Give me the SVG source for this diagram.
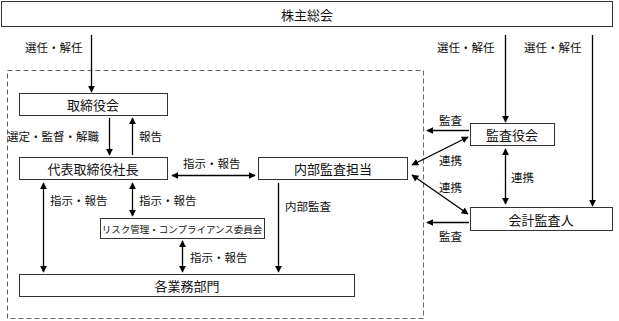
<svg xmlns="http://www.w3.org/2000/svg" width="619" height="321" viewBox="0 0 619 321">
<style>
.box{fill:#fff;stroke:#333;stroke-width:1}
.t{font-family:"Noto Sans CJK JP","Noto Sans",sans-serif;font-size:13px;fill:#111;text-anchor:middle;dominant-baseline:central}
.l{font-family:"Noto Sans CJK JP","Noto Sans",sans-serif;font-size:11.5px;fill:#111;dominant-baseline:central}
.c{stroke:#000;stroke-width:1.3;fill:none}
</style>
<defs>
<marker id="a" viewBox="0 0 10 10" refX="9" refY="5" markerWidth="7" markerHeight="7" markerUnits="userSpaceOnUse" orient="auto-start-reverse"><path d="M0,0L10,5L0,10z" fill="#000"/></marker>
</defs>
<rect x="7.5" y="70.5" width="416" height="248" fill="none" stroke="#666" stroke-width="1" stroke-dasharray="5,3"/>
<g id="kabunushi"><rect class="box" x="1.5" y="1.5" width="611" height="25"/><text class="t" x="307" y="14">株主総会</text></g>
<g id="torishimari"><rect class="box" x="19.5" y="93.5" width="148" height="22"/><text class="t" x="93" y="104.5">取締役会</text></g>
<g id="daihyo"><rect class="box" x="19.5" y="157.5" width="148" height="22"/><text class="t" x="93" y="168.5">代表取締役社長</text></g>
<g id="naibu"><rect class="box" x="258.5" y="157.5" width="149" height="22"/><text class="t" x="333" y="168.5">内部監査担当</text></g>
<g id="kansayaku"><rect class="box" x="470.5" y="123.5" width="84" height="22"/><text class="t" x="512" y="134.5">監査役会</text></g>
<g id="kaikei"><rect class="box" x="470.5" y="207.5" width="142" height="23"/><text class="t" x="541" y="219">会計監査人</text></g>
<g id="risk"><rect class="box" x="100.5" y="218.5" width="164" height="20"/><text class="t" x="182" y="228.5" style="font-size:9.5px">リスク管理・コンプライアンス委員会</text></g>
<g id="gyomu"><rect class="box" x="19.5" y="274.5" width="335" height="22"/><text class="t" x="187" y="285.5">各業務部門</text></g>
<g id="connectors">
<line class="c" x1="91.5" y1="35" x2="91.5" y2="92" marker-end="url(#a)"/>
<line class="c" x1="505.5" y1="35" x2="505.5" y2="122" marker-end="url(#a)"/>
<line class="c" x1="592.5" y1="35" x2="592.5" y2="206" marker-end="url(#a)"/>
<line class="c" x1="109.5" y1="118" x2="109.5" y2="155" marker-end="url(#a)"/>
<line class="c" x1="132.5" y1="155" x2="132.5" y2="118" marker-end="url(#a)"/>
<line class="c" x1="172" y1="175.5" x2="255" y2="175.5" marker-start="url(#a)" marker-end="url(#a)"/>
<line class="c" x1="43.5" y1="183" x2="43.5" y2="272" marker-start="url(#a)" marker-end="url(#a)"/>
<line class="c" x1="132.5" y1="183" x2="132.5" y2="216" marker-start="url(#a)" marker-end="url(#a)"/>
<line class="c" x1="182.5" y1="241" x2="182.5" y2="272" marker-start="url(#a)" marker-end="url(#a)"/>
<line class="c" x1="278.5" y1="183" x2="278.5" y2="272" marker-end="url(#a)"/>
<line class="c" x1="469" y1="130.5" x2="427" y2="130.5" marker-end="url(#a)"/>
<line class="c" x1="469" y1="222.5" x2="427" y2="222.5" marker-end="url(#a)"/>
<line class="c" x1="412" y1="165" x2="468" y2="137" marker-start="url(#a)" marker-end="url(#a)"/>
<line class="c" x1="412" y1="175" x2="468" y2="214" marker-start="url(#a)" marker-end="url(#a)"/>
<line class="c" x1="505.5" y1="149" x2="505.5" y2="204" marker-start="url(#a)" marker-end="url(#a)"/>
</g>
<g id="labels">
<text class="l" x="25" y="47">選任・解任</text>
<text class="l" x="437" y="47">選任・解任</text>
<text class="l" x="524" y="47">選任・解任</text>
<text class="l" x="7" y="136">選定・監督・解職</text>
<text class="l" x="139" y="136">報告</text>
<text class="l" x="183" y="163">指示・報告</text>
<text class="l" x="50" y="200">指示・報告</text>
<text class="l" x="139" y="200">指示・報告</text>
<text class="l" x="190" y="257">指示・報告</text>
<text class="l" x="285" y="206">内部監査</text>
<text class="l" x="439" y="120">監査</text>
<text class="l" x="439" y="160">連携</text>
<text class="l" x="439" y="187">連携</text>
<text class="l" x="511" y="177">連携</text>
<text class="l" x="439" y="236">監査</text>
</g>
</svg>
